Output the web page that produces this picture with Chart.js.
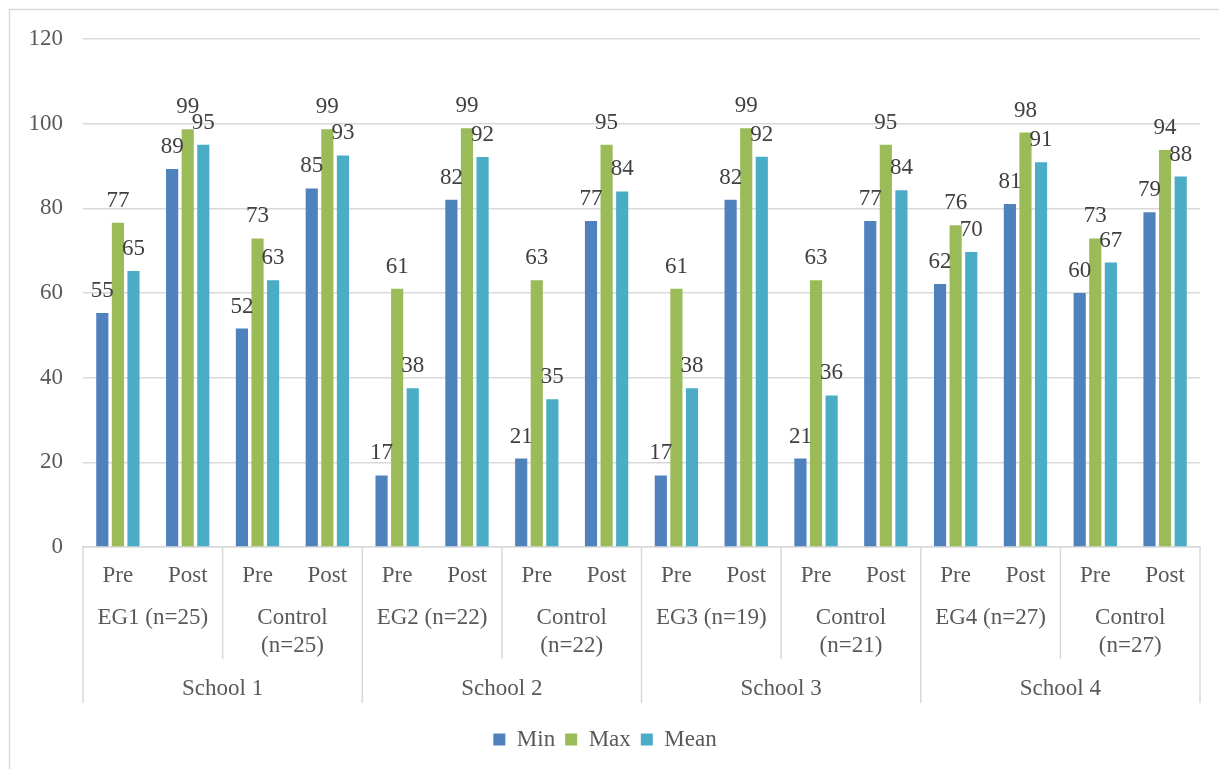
<!DOCTYPE html>
<html>
<head>
<meta charset="utf-8">
<script src="https://cdn.jsdelivr.net/npm/chart.js@4.4.1/dist/chart.umd.min.js"></script>
<style>
  html, body { margin: 0; padding: 0; background: #fff; }
  #wrap { position: relative; width: 1219px; height: 769px; }
</style>
</head>
<body>
<div id="wrap"><canvas id="myChart"></canvas></div>
<script>
// tick labels for the three axis levels
const phases = ['Pre', 'Post', 'Pre', 'Post', 'Pre', 'Post', 'Pre', 'Post',
                'Pre', 'Post', 'Pre', 'Post', 'Pre', 'Post', 'Pre', 'Post'];
const groups = [['EG1 (n=25)'], ['Control', '(n=25)'], ['EG2 (n=22)'], ['Control', '(n=22)'],
                ['EG3 (n=19)'], ['Control', '(n=21)'], ['EG4 (n=27)'], ['Control', '(n=27)']];
const schools = ['School 1', 'School 2', 'School 3', 'School 4'];

// series values
const minValues  = [55.3, 89.3, 51.6, 84.7, 16.9, 82.0, 20.9, 77.0, 16.9, 82.0, 20.9, 77.0, 62.1, 81.0, 60.0, 79.1];
const maxValues  = [76.6, 98.7, 72.9, 98.7, 61.0, 98.9, 63.0, 95.0, 61.0, 98.9, 63.0, 95.0, 76.0, 97.9, 72.9, 93.8];
const meanValues = [65.2, 95.0, 63.0, 92.5, 37.5, 92.1, 34.9, 84.0, 37.5, 92.2, 35.8, 84.3, 69.7, 90.9, 67.2, 87.5];

const FONT = "'Liberation Serif', 'Times New Roman', serif";
const FONT_SIZE = 23;
const AXIS_COLOR = '#595959';
const LINE_COLOR = '#d9d9d9';

// etiquetas de valor encima de cada barra
const valueLabels = {
    id: 'valueLabels',
    afterDatasetsDraw(chart) {
        const ctx = chart.ctx;
        ctx.save();
        ctx.font = FONT_SIZE + 'px ' + FONT;
        ctx.fillStyle = '#404040';
        ctx.textAlign = 'center';
        ctx.textBaseline = 'alphabetic';
        chart.data.datasets.forEach((ds, i) => {
            chart.getDatasetMeta(i).data.forEach((bar, j) => {
                ctx.fillText(Math.round(ds.data[j]), bar.x, bar.y - 16);
            });
        });
        ctx.restore();
    }
};

// niveles extra del eje x: grupos, escuelas y separadores
const axisLevels = {
    id: 'axisLevels',
    afterDraw(chart) {
        const ctx = chart.ctx;
        const x = chart.scales.x;
        const step = x.width / phases.length;
        const top = x.top;
        ctx.save();
        ctx.strokeStyle = LINE_COLOR;
        ctx.lineWidth = 1.5;
        for (let k = 0; k <= phases.length; k += 2) {
            const px = x.left + k * step;
            const bottom = (k % 4 === 0) ? top + 156 : top + 112;
            ctx.beginPath();
            ctx.moveTo(px, top);
            ctx.lineTo(px, bottom);
            ctx.stroke();
        }
        ctx.font = FONT_SIZE + 'px ' + FONT;
        ctx.fillStyle = AXIS_COLOR;
        ctx.textAlign = 'center';
        ctx.textBaseline = 'middle';
        groups.forEach((lines, g) => {
            const cx = x.left + (g * 2 + 1) * step;
            lines.forEach((t, l) => ctx.fillText(t, cx, top + 71 + l * 28));
        });
        schools.forEach((s, i) => {
            const cx = x.left + (i * 4 + 2) * step;
            ctx.fillText(s, cx, top + 142);
        });
        // marco exterior
        ctx.strokeRect(9.5, 9.5, 1230, 800);
        ctx.restore();
    }
};

const ctx = document.getElementById('myChart').getContext('2d');
const myChart = new Chart(ctx, {
    type: 'bar',
    data: {
        labels: phases,
        datasets: [
            { label: 'Min',  data: minValues,  backgroundColor: '#4f81bd' },
            { label: 'Max',  data: maxValues,  backgroundColor: '#9bbb59' },
            { label: 'Mean', data: meanValues, backgroundColor: '#4bacc6' }
        ]
    },
    options: {
        responsive: true,
        maintainAspectRatio: false,
        animation: false,
        categoryPercentage: 0.67,
        barPercentage: 0.78,
        layout: { padding: { left: 10, right: 19, top: 39, bottom: 8 } },
        scales: {
            x: {
                grid: { display: false, drawTicks: false },
                border: { display: true, color: LINE_COLOR, width: 1.5 },
                ticks: {
                    color: AXIS_COLOR, font: { family: FONT, size: FONT_SIZE },
                    padding: 15, maxRotation: 0, autoSkip: false
                },
                afterFit(scale) { scale.height = 171; }
            },
            y: {
                min: 0, max: 120,
                grid: { color: LINE_COLOR, lineWidth: 1.5, drawTicks: false },
                border: { display: false },
                ticks: {
                    stepSize: 20, color: AXIS_COLOR,
                    font: { family: FONT, size: FONT_SIZE }, padding: 20
                },
                afterFit(scale) { scale.width = 73; }
            }
        },
        plugins: {
            legend: {
                position: 'bottom',
                labels: {
                    boxWidth: 12, boxHeight: 12, padding: 10,
                    color: AXIS_COLOR, font: { family: FONT, size: FONT_SIZE }
                }
            },
            tooltip: { enabled: false }
        }
    },
    plugins: [valueLabels, axisLevels]
});
</script>
</body>
</html>
